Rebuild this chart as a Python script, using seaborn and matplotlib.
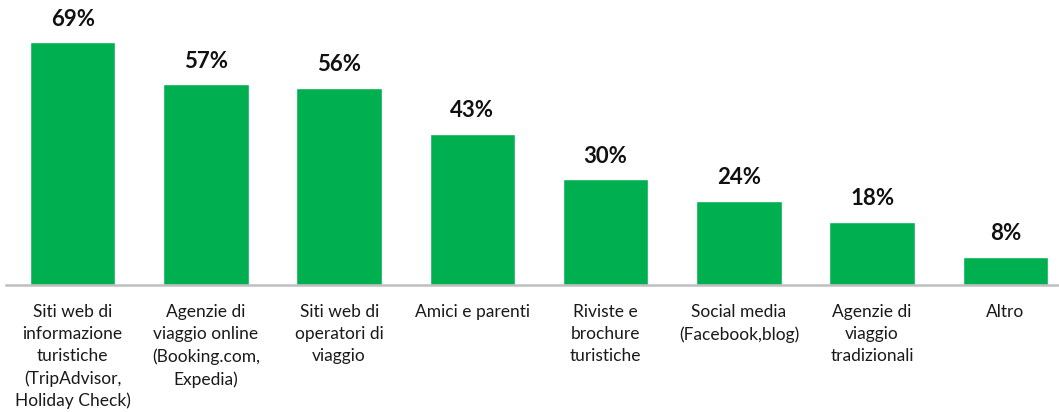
import matplotlib
matplotlib.use("Agg")
import matplotlib.pyplot as plt
import seaborn as sns
import pandas as pd

categories = [
    "Siti web di\ninformazione\nturistiche\n(TripAdvisor,\nHoliday Check)",
    "Agenzie di\nviaggio online\n(Booking.com,\nExpedia)",
    "Siti web di\noperatori di\nviaggio",
    "Amici e parenti",
    "Riviste e\nbrochure\nturistiche",
    "Social media\n(Facebook,blog)",
    "Agenzie di\nviaggio\ntradizionali",
    "Altro",
]
values = [69, 57, 56, 43, 30, 24, 18, 8]
value_labels = ["69%", "57%", "56%", "43%", "30%", "24%", "18%", "8%"]

df = pd.DataFrame({"categoria": categories, "percentuale": values})

sns.set_theme(style="white")
plt.rcParams["font.family"] = ["Lato", "DejaVu Sans"]

W, H = 1059, 412
fig = plt.figure(figsize=(W / 100, H / 100), dpi=100)
ax = fig.add_axes([6 / W, (H - 285) / H, 1066 / W, 285 / H])

sns.barplot(data=df, x="categoria", y="percentuale", color="#00B050",
            saturation=1, width=0.64, ax=ax)

ax.set_ylim(0, 81)
ax.set_xlim(-0.5, len(categories) - 0.5)

for i, (v, lab) in enumerate(zip(values, value_labels)):
    ax.annotate(lab, (i, v), xytext=(0, 9), textcoords="offset points",
                ha="center", va="bottom", fontsize=16, fontweight="bold",
                color="#111111")

for s in ["top", "right", "left"]:
    ax.spines[s].set_visible(False)
ax.spines["bottom"].set_color("#BFBFBF")
ax.spines["bottom"].set_linewidth(1.8)

ax.set_yticks([])
ax.set_xlabel("")
ax.set_ylabel("")
ax.tick_params(axis="x", length=0, pad=14, labelsize=12.5, labelcolor="#1a1a1a")
for t in ax.get_xticklabels():
    t.set_linespacing(1.45)
    t.set_ha("center")
    t.set_multialignment("center")

fig.savefig("out.png", dpi=100)
